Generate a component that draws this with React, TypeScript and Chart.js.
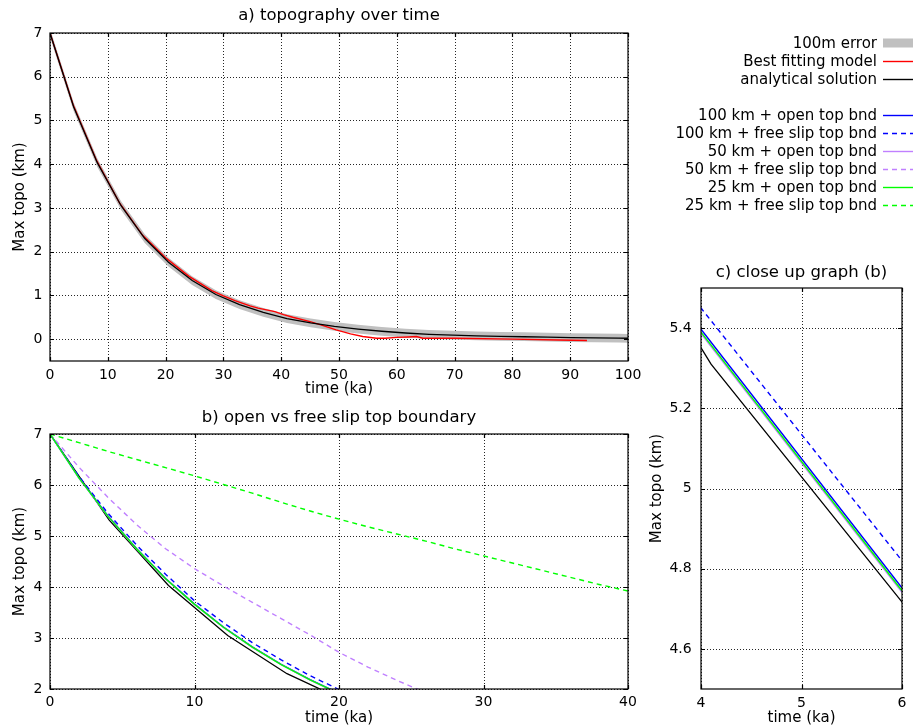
import React, { useEffect, useRef } from 'react';
import { Chart, registerables } from 'chart.js';

Chart.register(...registerables);

const FONT = '"DejaVu Sans", "Liberation Sans", sans-serif';
const TICK_SIZE = 14;
const LABEL_SIZE = 15;
const TITLE_SIZE = 16.5;
const LEGEND_SIZE = 15;

// ---------- Panel a data ----------
const TIME_ANALYTICAL = [0, 4.1, 8.2, 12.3, 16.4, 20.5, 24.6, 28.7, 32.8, 36.9, 41, 45.1, 49.2, 53.3, 57.4, 61.5, 65.6, 69.7, 73.8, 77.9, 82, 86.1, 90.2, 94.3, 98.4, 100];
const TOPO_ANALYTICAL = [7, 5.31, 4.03, 3.05, 2.3, 1.76, 1.34, 1.02, 0.79, 0.61, 0.47, 0.37, 0.29, 0.23, 0.18, 0.14, 0.11, 0.09, 0.075, 0.065, 0.055, 0.045, 0.035, 0.028, 0.022, 0.02];
const ERROR_HALF_WIDTH_KM = 0.1; // "100m error" band around the analytical solution

const TIME_BEST = [0, 4, 8, 12, 16, 20, 24, 28, 30, 32, 34.6, 36, 38.9, 40.4, 42, 45, 47, 49.5, 52, 54.1, 56.5, 58, 60, 62, 63.4, 64.5, 70, 80, 88, 92.9];
const TOPO_BEST = [7, 5.36, 4.1, 3.12, 2.38, 1.86, 1.44, 1.11, 0.99, 0.88, 0.76, 0.71, 0.63, 0.56, 0.5, 0.4, 0.32, 0.21, 0.12, 0.06, 0.02, 0.02, 0.04, 0.05, 0.06, 0.02, 0.02, 0.0, -0.02, -0.03];

// ---------- Panel b / c data ----------
const TIME_SIM = [0, 2, 4, 6, 8, 10, 12, 14, 16, 18, 20, 22, 24, 26, 28, 30, 32, 34, 36, 38, 40];
const TOPO_100_OPEN = [7, 6.145, 5.397, 4.752, 4.167, 3.666, 3.216, 2.826, 2.485, 2.185, 1.915, 1.685];
const TOPO_100_FREE = [7, 6.17, 5.45, 4.82, 4.25, 3.73, 3.3, 2.91, 2.57, 2.26, 1.99, 1.76];
const TOPO_50_OPEN = [7, 6.136, 5.386, 4.741, 4.156, 3.656, 3.206, 2.816, 2.476, 2.176, 1.906, 1.676];
const TOPO_50_FREE = [7, 6.35, 5.76, 5.22, 4.75, 4.36, 4.02, 3.7, 3.38, 3.06, 2.72, 2.43, 2.17, 1.93];
const TOPO_25_OPEN = [7, 6.14, 5.39, 4.745, 4.16, 3.66, 3.21, 2.82, 2.48, 2.18, 1.91, 1.68];
const TOPO_25_FREE = [7, 6.83, 6.66, 6.5, 6.34, 6.18, 6.01, 5.84, 5.66, 5.49, 5.33, 5.18, 5.04, 4.9, 4.75, 4.61, 4.47, 4.33, 4.19, 4.05, 3.92];

// ---------- Ticks ----------
const A_X_TICKS = [0, 10, 20, 30, 40, 50, 60, 70, 80, 90, 100];
const A_Y_TICKS = [0, 1, 2, 3, 4, 5, 6, 7];
const B_X_TICKS = [0, 10, 20, 30, 40];
const B_Y_TICKS = [2, 3, 4, 5, 6, 7];
const C_X_TICKS = [4, 5, 6];
const C_Y_TICKS = [4.6, 4.8, 5, 5.2, 5.4];

// ---------- Labels ----------
const TITLE_A = 'a) topography over time';
const TITLE_B = 'b) open vs free slip top boundary';
const TITLE_C = 'c) close up graph (b)';
const X_LABEL = 'time (ka)';
const Y_LABEL = 'Max topo (km)';
const LEGEND_LABELS = ['100m error', 'Best fitting model', 'analytical solution', '', '100 km + open top bnd', '100 km + free slip top bnd', '50 km + open top bnd', '50 km + free slip top bnd', '25 km + open top bnd', '25 km + free slip top bnd'];

// ---------- Styles ----------
const C_GREY = 'rgb(192,192,192)';
const C_RED = '#ff0000';
const C_BLACK = '#000000';
const C_BLUE = '#0000ff';
const C_PURPLE = '#c080ff';
const C_GREEN = '#00ff00';
const DASH = [5, 4];

const LEGEND_STYLES: any[] = [
  { kind: 'band', color: C_GREY },
  { kind: 'line', color: C_RED, dash: [] },
  { kind: 'line', color: C_BLACK, dash: [] },
  null,
  { kind: 'line', color: C_BLUE, dash: [] },
  { kind: 'line', color: C_BLUE, dash: DASH },
  { kind: 'line', color: C_PURPLE, dash: [] },
  { kind: 'line', color: C_PURPLE, dash: DASH },
  { kind: 'line', color: C_GREEN, dash: [] },
  { kind: 'line', color: C_GREEN, dash: DASH },
];

const zip = (xs: number[], ys: number[]) => ys.map((y, i) => ({ x: xs[i], y }));

Chart.defaults.font.family = FONT;
Chart.defaults.color = '#000';

const framePlugin = {
  id: 'gnuFrame',
  beforeDatasetsDraw(chart: any) {
    const { ctx, chartArea: a, scales } = chart;
    ctx.save();
    ctx.strokeStyle = 'rgba(0,0,0,0.85)';
    ctx.lineWidth = 1;
    ctx.setLineDash([1, 2]);
    for (const t of scales.x.ticks) {
      const x = Math.round(scales.x.getPixelForValue(t.value)) + 0.5;
      ctx.beginPath();
      ctx.moveTo(x, a.top);
      ctx.lineTo(x, a.bottom);
      ctx.stroke();
    }
    for (const t of scales.y.ticks) {
      const y = Math.round(scales.y.getPixelForValue(t.value)) + 0.5;
      ctx.beginPath();
      ctx.moveTo(a.left, y);
      ctx.lineTo(a.right, y);
      ctx.stroke();
    }
    ctx.restore();
  },
  afterDatasetsDraw(chart: any) {
    const { ctx, chartArea: a, scales } = chart;
    ctx.save();
    ctx.strokeStyle = '#000';
    ctx.lineWidth = 1.2;
    ctx.setLineDash([]);
    const TL = 4;
    for (const t of scales.x.ticks) {
      const x = Math.round(scales.x.getPixelForValue(t.value)) + 0.5;
      ctx.beginPath();
      ctx.moveTo(x, a.bottom);
      ctx.lineTo(x, a.bottom - TL);
      ctx.moveTo(x, a.top);
      ctx.lineTo(x, a.top + TL);
      ctx.stroke();
    }
    for (const t of scales.y.ticks) {
      const y = Math.round(scales.y.getPixelForValue(t.value)) + 0.5;
      ctx.beginPath();
      ctx.moveTo(a.left, y);
      ctx.lineTo(a.left + TL, y);
      ctx.moveTo(a.right, y);
      ctx.lineTo(a.right - TL, y);
      ctx.stroke();
    }
    ctx.strokeRect(Math.round(a.left), Math.round(a.top), Math.round(a.right - a.left), Math.round(a.bottom - a.top));
    ctx.restore();
  },
};

const titlePlugin = {
  id: 'panelTitle',
  afterDraw(chart: any, _args: any, opts: any) {
    if (!opts || !opts.text) return;
    const { ctx, chartArea: a } = chart;
    ctx.save();
    ctx.font = `${TITLE_SIZE}px ${FONT}`;
    ctx.fillStyle = '#000';
    ctx.textAlign = 'center';
    ctx.textBaseline = 'alphabetic';
    ctx.fillText(opts.text, (a.left + a.right) / 2, opts.baseline);
    ctx.restore();
  },
};

const legendPlugin = {
  id: 'sideLegend',
  afterDraw(chart: any, _args: any, opts: any) {
    if (!opts || !opts.show) return;
    const { ctx } = chart;
    ctx.save();
    ctx.font = `${LEGEND_SIZE}px ${FONT}`;
    ctx.fillStyle = '#000';
    ctx.textAlign = 'right';
    ctx.textBaseline = 'alphabetic';
    const textRight = 877;
    const x0 = 883;
    const x1 = 913;
    LEGEND_LABELS.forEach((label, i) => {
      const style = LEGEND_STYLES[i];
      if (!style) return;
      const cy = 43 + i * 17.95;
      ctx.fillStyle = '#000';
      ctx.fillText(label, textRight, cy + 5.3);
      if (style.kind === 'band') {
        ctx.fillStyle = style.color;
        ctx.fillRect(x0, cy - 4.5, x1 - x0, 9);
      } else {
        ctx.strokeStyle = style.color;
        ctx.lineWidth = 1.4;
        ctx.setLineDash(style.dash);
        ctx.beginPath();
        ctx.moveTo(x0, Math.round(cy) + 0.5);
        ctx.lineTo(x1, Math.round(cy) + 0.5);
        ctx.stroke();
        ctx.setLineDash([]);
      }
    });
    ctx.restore();
  },
};

function xAxis(min: number, max: number, ticks: number[], height: number, tickPad: number, titlePadBottom: number) {
  return {
    type: 'linear',
    position: 'bottom',
    min,
    max,
    grid: { display: false, drawTicks: false, tickLength: 0 },
    border: { display: false },
    ticks: {
      color: '#000',
      font: { size: TICK_SIZE },
      padding: tickPad,
      autoSkip: false,
      maxRotation: 0,
      callback: (v: number) => String(v),
    },
    afterBuildTicks: (s: any) => {
      s.ticks = ticks.map((v) => ({ value: v }));
    },
    afterFit: (s: any) => {
      s.height = height;
    },
    title: {
      display: true,
      text: X_LABEL,
      color: '#000',
      font: { size: LABEL_SIZE },
      padding: { top: 0, bottom: titlePadBottom },
    },
  };
}

function yAxis(min: number, max: number, ticks: number[], width: number, tickPad: number, titlePadTop: number) {
  return {
    type: 'linear',
    position: 'left',
    min,
    max,
    grid: { display: false, drawTicks: false, tickLength: 0 },
    border: { display: false },
    ticks: {
      color: '#000',
      font: { size: TICK_SIZE },
      padding: tickPad,
      autoSkip: false,
      callback: (v: number) => String(v),
    },
    afterBuildTicks: (s: any) => {
      s.ticks = ticks.map((v) => ({ value: v }));
    },
    afterFit: (s: any) => {
      s.width = width;
    },
    title: {
      display: true,
      text: Y_LABEL,
      color: '#000',
      font: { size: LABEL_SIZE },
      padding: { top: titlePadTop, bottom: 0 },
    },
  };
}

function line(label: string, data: any[], color: string, dash: number[] = [], width = 1.4) {
  return {
    label,
    data,
    borderColor: color,
    backgroundColor: color,
    borderWidth: width,
    borderDash: dash,
    pointRadius: 0,
    tension: 0,
    fill: false,
  };
}

function baseOptions(padding: any, scales: any, plugins: any) {
  return {
    animation: false,
    responsive: false,
    maintainAspectRatio: false,
    devicePixelRatio: 1,
    layout: { padding },
    scales,
    plugins: {
      legend: { display: false },
      tooltip: { enabled: false },
      ...plugins,
    },
  };
}

export default function App() {
  const refA = useRef<HTMLCanvasElement>(null);
  const refB = useRef<HTMLCanvasElement>(null);
  const refC = useRef<HTMLCanvasElement>(null);

  useEffect(() => {
    const analytical = zip(TIME_ANALYTICAL, TOPO_ANALYTICAL);
    const upper = TIME_ANALYTICAL.map((x, i) => ({ x, y: TOPO_ANALYTICAL[i] + ERROR_HALF_WIDTH_KM }));
    const lower = TIME_ANALYTICAL.map((x, i) => ({ x, y: TOPO_ANALYTICAL[i] - ERROR_HALF_WIDTH_KM }));

    const chartA = new Chart(refA.current as HTMLCanvasElement, {
      type: 'line',
      data: {
        datasets: [
          line('analytical solution', analytical, C_BLACK, [], 1.3),
          line('Best fitting model', zip(TIME_BEST, TOPO_BEST), C_RED, [], 1.4),
          { ...line('100m error upper', upper, C_GREY, [], 0), fill: false },
          { ...line('100m error', lower, C_GREY, [], 0), fill: '-1', backgroundColor: C_GREY },
        ],
      },
      options: baseOptions(
        { top: 33, right: 286, bottom: 0, left: 0 },
        { x: xAxis(0, 100, A_X_TICKS, 39, 6, 2), y: yAxis(-0.5, 7, A_Y_TICKS, 50, 7.5, 11) },
        { panelTitle: { text: TITLE_A, baseline: 20 }, sideLegend: { show: true } }
      ) as any,
      plugins: [framePlugin, titlePlugin, legendPlugin],
    } as any);

    const sim = (ys: number[]) => zip(TIME_SIM, ys);

    const chartB = new Chart(refB.current as HTMLCanvasElement, {
      type: 'line',
      data: {
        datasets: [
          line('25 km + free slip top bnd', sim(TOPO_25_FREE), C_GREEN, DASH),
          line('25 km + open top bnd', sim(TOPO_25_OPEN), C_GREEN),
          line('50 km + free slip top bnd', sim(TOPO_50_FREE), C_PURPLE, DASH),
          line('50 km + open top bnd', sim(TOPO_50_OPEN), C_PURPLE),
          line('100 km + free slip top bnd', sim(TOPO_100_FREE), C_BLUE, DASH),
          line('100 km + open top bnd', sim(TOPO_100_OPEN), C_BLUE),
          line('analytical solution', analytical, C_BLACK, [], 1.3),
        ],
      },
      options: baseOptions(
        { top: 34, right: 50, bottom: 0, left: 0 },
        { x: xAxis(0, 40, B_X_TICKS, 38, 5, 0), y: yAxis(2, 7, B_Y_TICKS, 50, 7.5, 11) },
        { panelTitle: { text: TITLE_B, baseline: 22.3 } }
      ) as any,
      plugins: [framePlugin, titlePlugin],
    } as any);

    const chartC = new Chart(refC.current as HTMLCanvasElement, {
      type: 'line',
      data: {
        datasets: [
          line('25 km + open top bnd', sim(TOPO_25_OPEN), C_GREEN),
          line('50 km + open top bnd', sim(TOPO_50_OPEN), C_PURPLE),
          line('100 km + open top bnd', sim(TOPO_100_OPEN), C_BLUE),
          line('100 km + free slip top bnd', sim(TOPO_100_FREE), C_BLUE, DASH),
          line('analytical solution', analytical, C_BLACK, [], 1.3),
        ],
      },
      options: baseOptions(
        { top: 38, right: 12, bottom: 0, left: 0 },
        { x: xAxis(4, 6, C_X_TICKS, 38, 5.5, 0), y: yAxis(4.5, 5.5, C_Y_TICKS, 61, 9.3, 8.5) },
        { panelTitle: { text: TITLE_C, baseline: 26.7 } }
      ) as any,
      plugins: [framePlugin, titlePlugin],
    } as any);

    return () => {
      chartA.destroy();
      chartB.destroy();
      chartC.destroy();
    };
  }, []);

  const abs = (left: number, top: number, width: number, height: number): React.CSSProperties => ({
    position: 'absolute',
    left,
    top,
    width,
    height,
    display: 'block',
  });

  return (
    <div style={{ position: 'absolute', left: 0, top: 0, width: 914, height: 727, background: '#fff', overflow: 'hidden' }}>
      <canvas ref={refA} width={914} height={400} style={abs(0, 0, 914, 400)} />
      <canvas ref={refB} width={678} height={327} style={abs(0, 400, 678, 327)} />
      <canvas ref={refC} width={274} height={477} style={abs(640, 250, 274, 477)} />
    </div>
  );
}
